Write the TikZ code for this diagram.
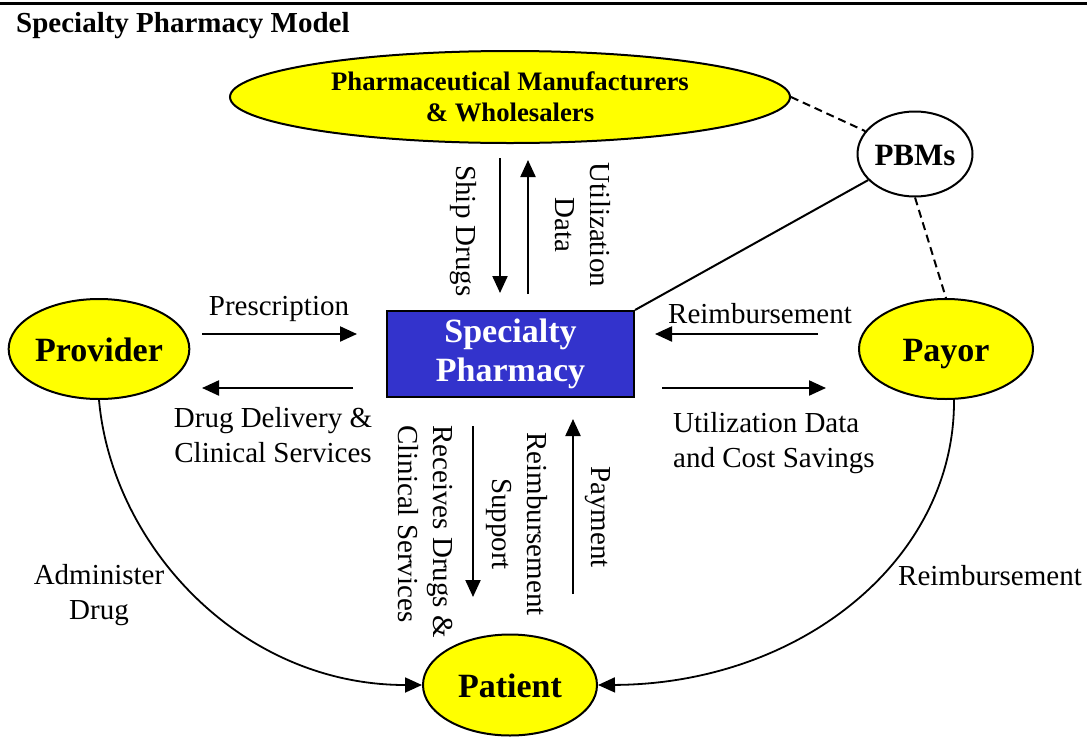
\documentclass[tikz,border=0pt]{standalone}
\usepackage{fontspec}
\setmainfont{Liberation Serif}
\usetikzlibrary{shapes.geometric,arrows.meta}
\definecolor{ylw}{HTML}{FFFF00}
\definecolor{spblue}{HTML}{3333CC}
\begin{document}
\begin{tikzpicture}[x=1pt,y=-1pt,
  actor/.style={ellipse,draw,line width=2pt,fill=ylw,inner sep=0pt,
    text height=25pt,text depth=0pt,
    font=\fontsize{34}{40}\selectfont\bfseries},
  lbl/.style={inner sep=0pt,font=\fontsize{29}{35}\selectfont},
  arr/.style={line width=2.2pt,-{Triangle[length=17pt,width=15pt]}},
  curvearr/.style={line width=1.8pt,-{Triangle[length=17pt,width=15pt]}},
  dsh/.style={line width=2pt,dash pattern=on 8pt off 5pt},
  solid line/.style={line width=2pt}]
\useasboundingbox (0,0) rectangle (1087,742);
\draw[line width=3pt] (0,3) -- (1087,3);
\node[anchor=base west,inner sep=0pt,font=\fontsize{29}{35}\selectfont\bfseries] (title) at (16,32) {Specialty Pharmacy Model};

% nodes
\node[ellipse,draw,line width=2pt,fill=ylw,inner sep=0pt,minimum width=560pt,minimum height=92pt,
  font=\fontsize{26.7}{31}\selectfont\bfseries,align=center] (mfr) at (510,97)
  {Pharmaceutical Manufacturers\\\& Wholesalers};
\node[ellipse,draw,line width=2pt,fill=white,inner sep=0pt,minimum width=115pt,minimum height=85pt,
  text height=23pt,text depth=0pt,
  font=\fontsize{31}{36}\selectfont\bfseries] (pbm) at (915,154) {PBMs};
\node[rectangle,draw,line width=2pt,fill=spblue,text=white,minimum width=247pt,minimum height=86pt,inner sep=0pt,
  align=center,font=\fontsize{34}{40}\selectfont\bfseries] (sp) at (510.5,354) {Specialty\\[-1pt]Pharmacy};
\node[actor,minimum width=172pt,minimum height=100pt] (prov) at (99,349) {Provider};
\node[actor,minimum width=174pt,minimum height=100pt] (payor) at (946,349) {Payor};
\node[actor,minimum width=174pt,minimum height=101pt] (pat) at (510,685) {Patient};

% connector end points
\coordinate (a1) at (202,334); \coordinate (a2) at (357,334);
\coordinate (b1) at (353,388); \coordinate (b2) at (202,388);
\coordinate (c1) at (818,334); \coordinate (c2) at (655,334);
\coordinate (d1) at (662,388); \coordinate (d2) at (826,388);
\coordinate (e1) at (500,158); \coordinate (e2) at (500,293);
\coordinate (f1) at (528,294); \coordinate (f2) at (528,160);
\coordinate (g1) at (473,426); \coordinate (g2) at (473,597);
\coordinate (h1) at (573,594); \coordinate (h2) at (573,419);

\draw[arr] (a1) -- (a2);
\draw[arr] (b1) -- (b2);
\draw[arr] (c1) -- (c2);
\draw[arr] (d1) -- (d2);
\draw[arr] (e1) -- (e2);
\draw[arr] (f1) -- (f2);
\draw[arr] (g1) -- (g2);
\draw[arr] (h1) -- (h2);

\draw[solid line] (pbm) -- (sp.north east);
\draw[dsh] (mfr.east) -- (pbm);
\draw[dsh] (pbm.south) -- (payor.north);

\draw[curvearr] (prov.south) .. controls (112,545) and (240,685) .. (pat.west);
\draw[curvearr] ([xshift=8pt]payor.south) .. controls (955,560) and (800,684) .. (pat.east);

% labels
\node[lbl,anchor=base] (lpres) at (279,315) {Prescription};
\node[lbl,align=center] (ldrug) at (273,435) {Drug Delivery \&\\Clinical Services};
\node[lbl,anchor=base] (lreim) at (760,323) {Reimbursement};
\node[lbl,align=left,anchor=west] (lutil) at (673,443) {Utilization Data\\and Cost Savings};
\node[lbl,rotate=-90] (lship) at (463,231) {Ship Drugs};
\node[lbl,rotate=-90,align=center] (lutd) at (583,225) {Utilization\\Data};
\node[lbl,rotate=-90,align=left,anchor=west] (lrec) at (425,425) {Receives Drugs \&\\Clinical Services};
\node[lbl,rotate=-90,align=center] (lrs) at (517,524) {Reimbursement\\Support};
\node[lbl,rotate=-90] (lpay) at (598,517) {Payment};
\node[lbl,align=center] (ladm) at (99,595) {Administer\\Drug};
\node[lbl,anchor=base] (lreim2) at (990,585) {Reimbursement};
\end{tikzpicture}
\end{document}
